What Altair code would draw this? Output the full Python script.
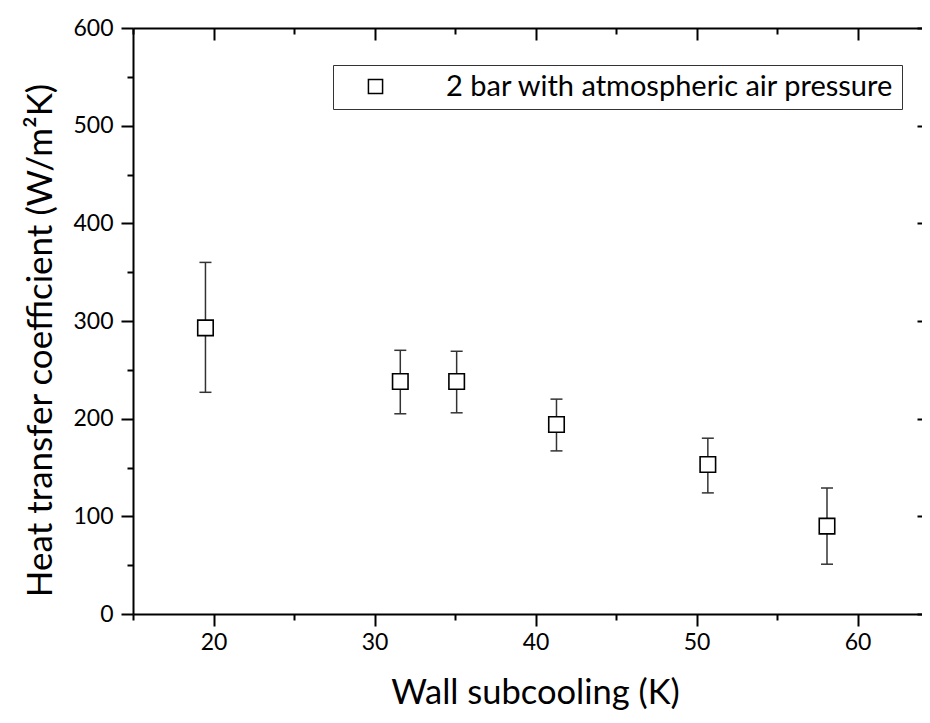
import altair as alt
import pandas as pd

# ---- data ----
subcooling = [19.5, 31.6, 35.1, 41.3, 50.7, 58.1]
htc = [293, 238, 238, 194, 153, 90]
htc_low = [227, 205, 206, 167, 124, 51]
htc_high = [360, 270, 269, 220, 180, 129]
series_name = "2 bar with atmospheric air pressure"

x_major = [20, 30, 40, 50, 60]
x_minor = [15, 25, 35, 45, 55]
y_major = [0, 100, 200, 300, 400, 500, 600]
y_minor = [50, 150, 250, 350, 450, 550]

df = pd.DataFrame({
    "x": subcooling,
    "y": htc,
    "lo": htc_low,
    "hi": htc_high,
    "series": [series_name] * len(subcooling),
})

W, H = 789, 586
FONT = "Lato"
xs = alt.Scale(domain=[15, 64], nice=False, zero=False)
ys = alt.Scale(domain=[0, 600], nice=False, zero=False)
common = dict(grid=False, domainColor="black", tickColor="black",
              domainWidth=2, tickWidth=2, labelOverlap=False)

base = alt.Chart(df)

points = base.mark_square(size=240, fill="white", fillOpacity=1, strokeWidth=1.6, opacity=1).encode(
    x=alt.X("x:Q", scale=xs, axis=alt.Axis(
        orient="bottom", values=x_major, tickSize=12, labelFontSize=23, labelFont=FONT,
        labelColor="black", labelPadding=5, format="d",
        title="Wall subcooling (K)", titleFont=FONT, titleFontSize=34.5,
        titleFontWeight="normal", titleColor="black", titlePadding=22, titleX=402, **common)),
    y=alt.Y("y:Q", scale=ys, axis=alt.Axis(
        orient="left", values=y_major, tickSize=12, labelFontSize=23, labelFont=FONT,
        labelColor="black", labelPadding=8, format="d",
        title="Heat transfer coefficient (W/m²K)", titleFont=FONT, titleFontSize=35,
        titleFontWeight="normal", titleColor="black", titlePadding=14, titleY=312, **common)),
    stroke=alt.Stroke("series:N", scale=alt.Scale(range=["black"]), legend=alt.Legend(
        title=None, orient="none", legendX=200, legendY=37,
        strokeColor="#333", fillColor="white", padding=7, cornerRadius=0,
        symbolType="square", symbolSize=200, symbolStrokeWidth=1.5,
        symbolFillColor="white", symbolStrokeColor="black", symbolOffset=21,
        labelFont=FONT, labelFontSize=29, labelColor="black", labelOffset=56,
        labelLimit=900,
        labelExpr="datum.label + '\u2002'")),
)

rules = base.mark_rule(color="#333", strokeWidth=1.5).encode(
    x=alt.X("x:Q", scale=xs, axis=None),
    y=alt.Y("lo:Q", scale=ys, axis=None),
    y2="hi:Q",
)
caps_hi = base.mark_tick(orient="horizontal", size=12, thickness=1.5, color="#333", opacity=1).encode(
    x=alt.X("x:Q", scale=xs, axis=None),
    y=alt.Y("hi:Q", scale=ys, axis=None),
)
caps_lo = base.mark_tick(orient="horizontal", size=12, thickness=1.5, color="#333", opacity=1).encode(
    x=alt.X("x:Q", scale=xs, axis=None),
    y=alt.Y("lo:Q", scale=ys, axis=None),
)


def axis_layer(xaxis, yaxis):
    return base.mark_point(opacity=0).encode(
        x=alt.X("x:Q", scale=xs, axis=xaxis),
        y=alt.Y("y:Q", scale=ys, axis=yaxis),
    )


noax = dict(labels=False, title=None, grid=False, tickColor="black", tickWidth=2,
            domainColor="black", domainWidth=2)

# outer minor ticks (bottom / left)
minor_out = axis_layer(
    alt.Axis(orient="bottom", values=x_minor, tickSize=6, domain=False, **noax),
    alt.Axis(orient="left", values=y_minor, tickSize=6, domain=False, **noax),
)
# top frame (inward major ticks) and right inward major ticks
top_right_major = axis_layer(
    alt.Axis(orient="bottom", offset=-H, values=x_major, tickSize=12, domain=True, **noax),
    alt.Axis(orient="left", offset=-W, values=y_major, tickSize=5, domain=False, **noax),
)
top_minor = axis_layer(
    alt.Axis(orient="bottom", offset=-H, values=x_minor, tickSize=6, domain=False, **noax),
    None,
)

chart = alt.layer(rules, caps_hi, caps_lo, points, minor_out, top_right_major, top_minor).resolve_axis(
    x="independent", y="independent"
).properties(
    width=W, height=H,
    autosize=alt.AutoSizeParams(type="none"),
    padding={"left": 125, "top": 20, "right": 0, "bottom": 97},
).configure_view(stroke=None).configure(background="white")

chart.save("out.html", embed_options={"renderer": "svg", "actions": False})
